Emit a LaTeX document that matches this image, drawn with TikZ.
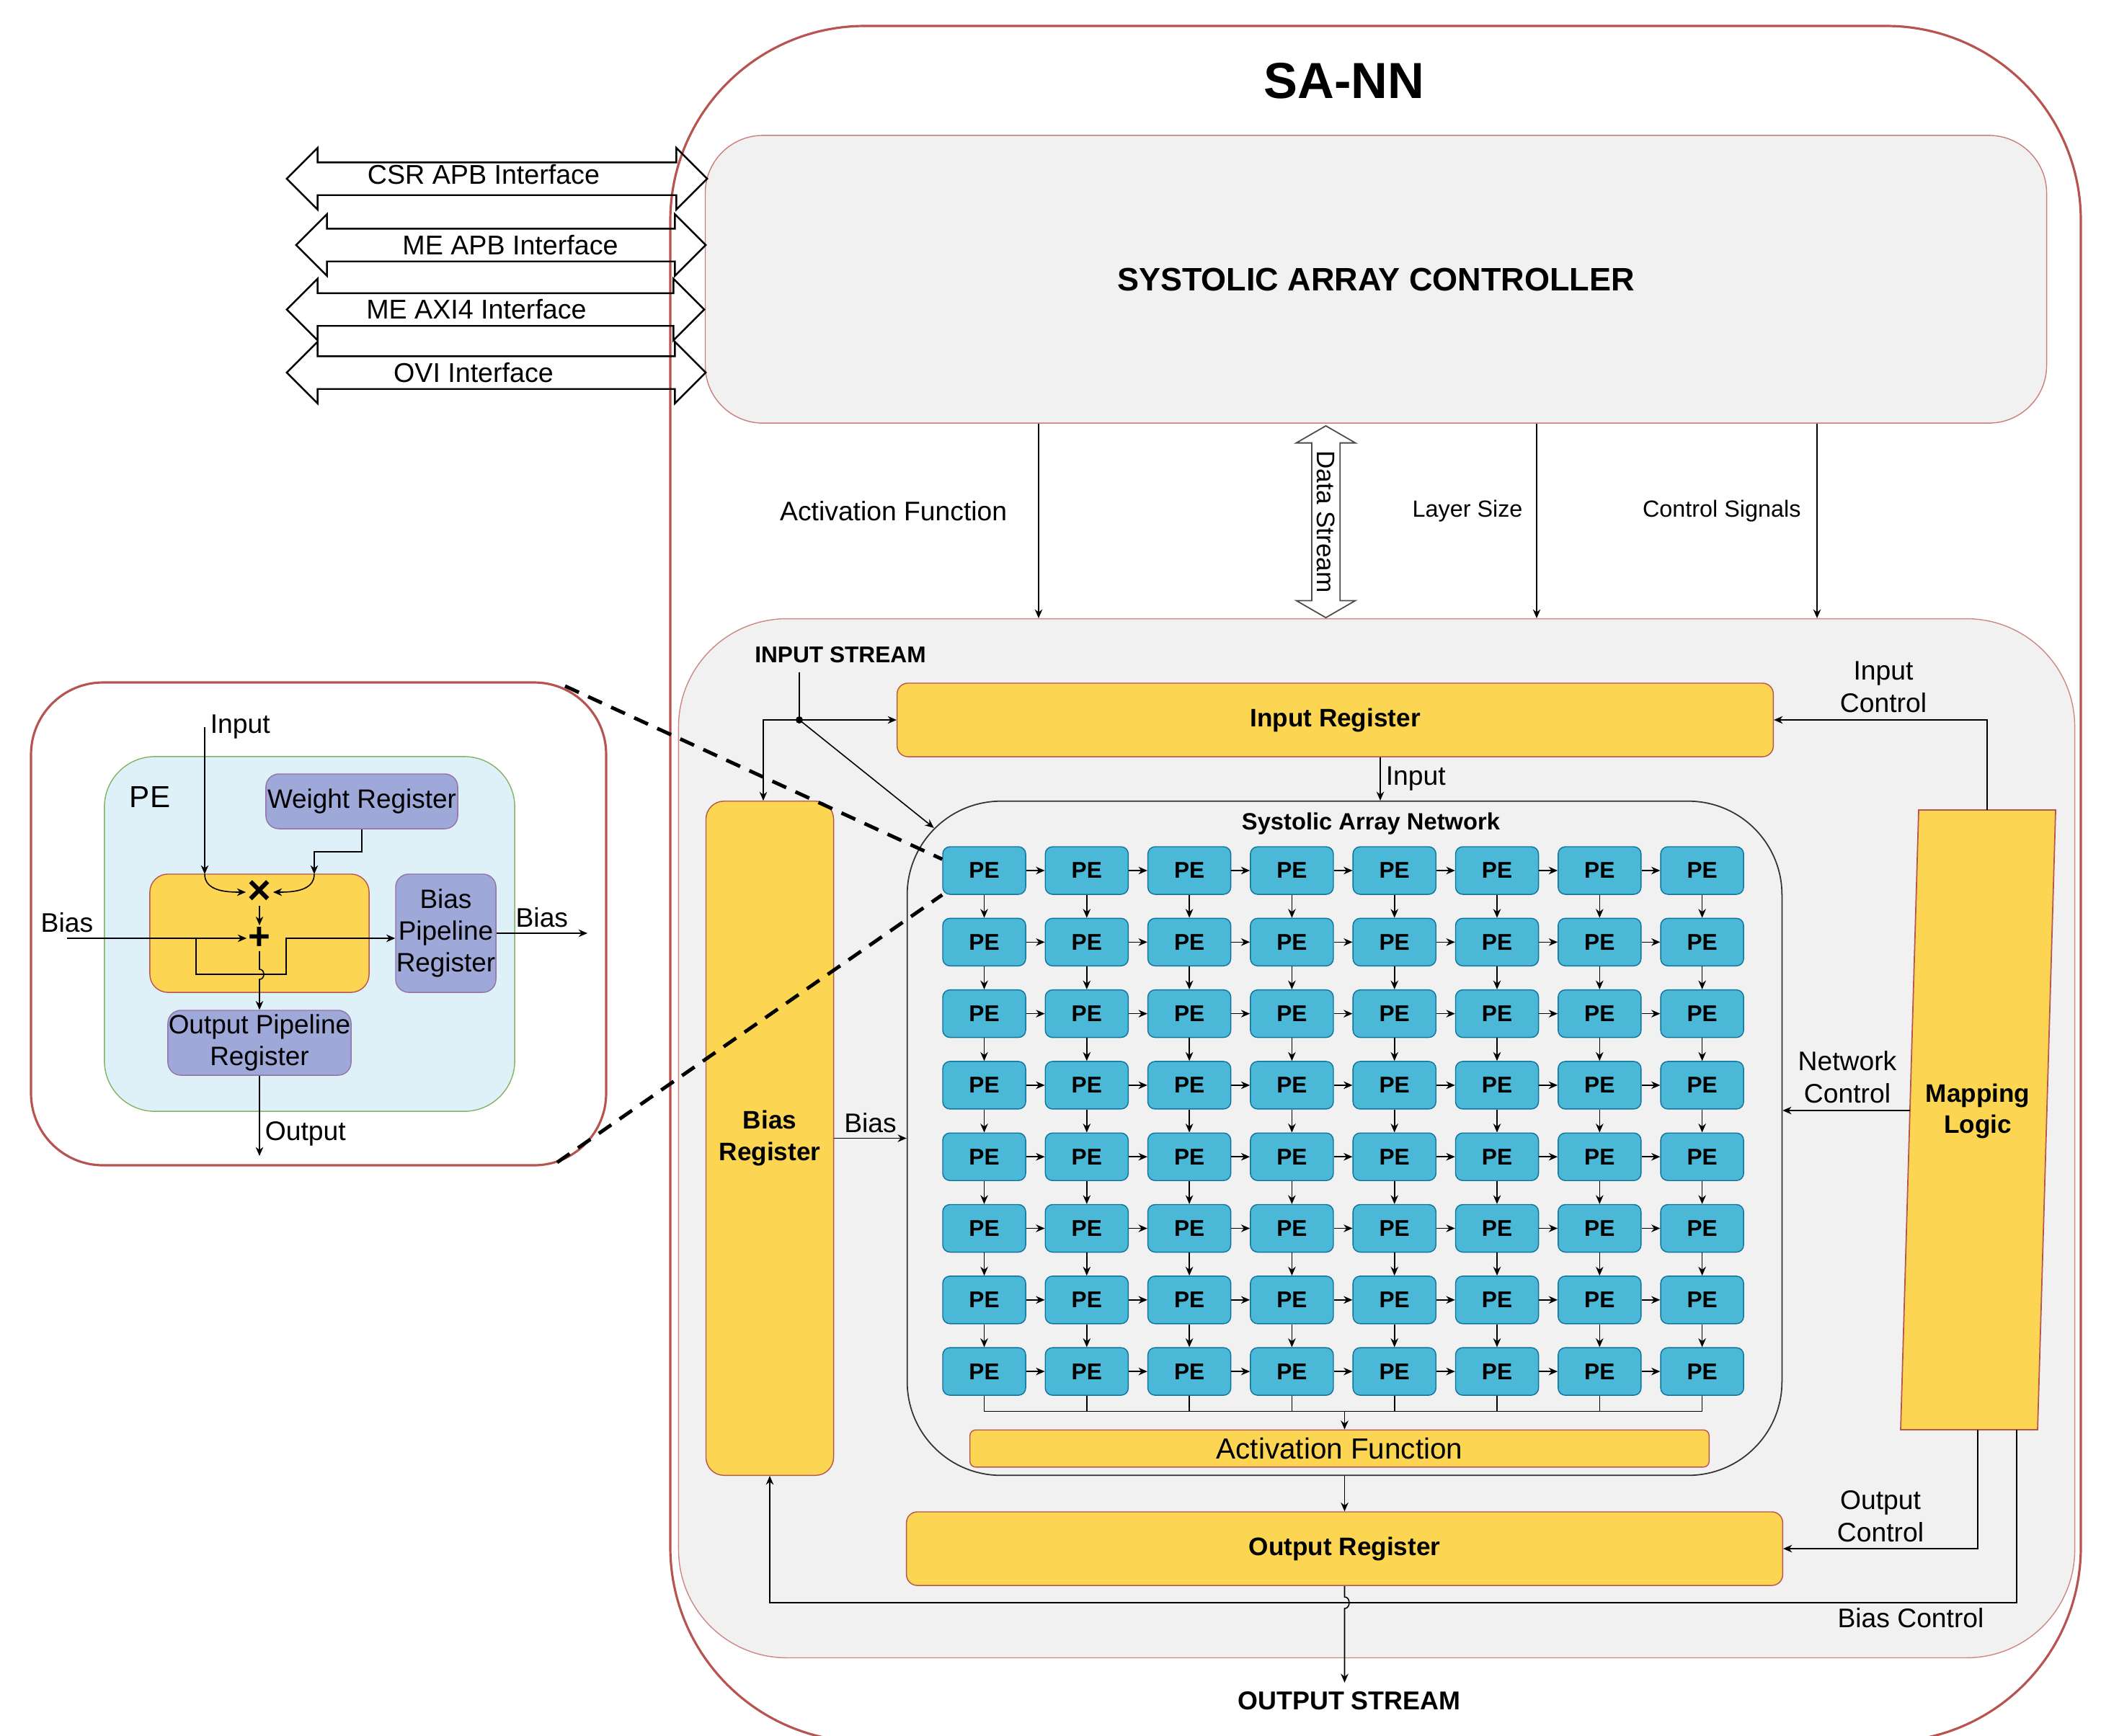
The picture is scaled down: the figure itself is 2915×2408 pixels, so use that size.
\documentclass[tikz,border=0pt]{standalone}
\usepackage{fontspec}
\setmainfont{Liberation Sans}
\usetikzlibrary{shapes.arrows,arrows.meta,positioning}
\definecolor{boxred}{HTML}{B85450}
\definecolor{regyellow}{HTML}{FCD652}
\definecolor{peblue}{HTML}{4BB8D7}
\definecolor{peline}{HTML}{10739E}
\definecolor{lavender}{HTML}{9EA8D9}
\definecolor{lavline}{HTML}{9673A6}
\definecolor{pecyan}{HTML}{DFF1F8}
\definecolor{pegreen}{HTML}{82B366}
\definecolor{areagray}{HTML}{F1F1F1}
\begin{document}
\begin{tikzpicture}[x=0.01cm, y=-0.01cm, >={Stealth[length=3.5pt,width=3pt]},
  wire/.style={->, line width=0.45pt},
  reg/.style={draw=boxred, fill=regyellow, rounded corners=0.15cm, inner sep=0pt, align=center, font=\fontsize{10}{12.5}\selectfont\bfseries},
  pe/.style={draw=peline, fill=peblue, rounded corners=0.1cm, minimum width=1.15cm, minimum height=0.66cm, inner sep=0pt, font=\fontsize{9}{11}\selectfont\bfseries},
  purple box/.style={draw=lavline, fill=lavender, rounded corners=0.18cm, inner sep=0pt, align=center, font=\fontsize{10.5}{12.6}\selectfont},
  iface/.style={double arrow, draw, line width=0.7pt, minimum width=0.83cm, double arrow head extend=0.2cm, inner xsep=0pt, inner ysep=0.215cm},
  iface text/.style={font=\fontsize{10.7}{12}\selectfont, inner sep=0pt},
  lbl/.style={font=\fontsize{10.6}{12.8}\selectfont, align=center, inner sep=2pt}]
  \tikzstyle{every node}=[font=\fontsize{10.6}{12.8}\selectfont]
  \useasboundingbox (0,0) rectangle (2915,2408);

  % SA-NN frame
  \draw[boxred, line width=0.9pt, rounded corners=2.7cm] (930,36) rectangle (2887,2417);
  \node[font=\fontsize{20}{24}\selectfont\bfseries] (title) at (1865,112) {SA-NN};
  \node[draw=boxred!75, fill=areagray, rounded corners=0.8cm, minimum width=18.6cm, minimum height=3.99cm, font=\fontsize{12.8}{15}\selectfont\bfseries] (ctrl) at (1909,387.5) {SYSTOLIC ARRAY CONTROLLER};

  % interfaces
  \node[iface, minimum height=5.83cm, label={[iface text, xshift=-0.185cm, yshift=0.06cm]center:CSR APB Interface}] (csr) at (689.5,248) {};
  \node[iface, minimum height=5.68cm, label={[iface text, xshift=0.13cm]center:ME APB Interface}] (meapb) at (695,340) {};
  \node[iface, minimum height=5.79cm, label={[iface text, xshift=-0.265cm]center:ME AXI4 Interface}] (meaxi) at (687.5,429.5) {};
  \node[iface, minimum height=5.81cm, label={[iface text, xshift=-0.315cm]center:OVI Interface}] (ovi) at (688.5,517) {};

  % array area
  \node[draw=boxred!70, fill=areagray, rounded corners=1.5cm, minimum width=19.36cm, minimum height=14.41cm] (area) at (1910,1579.5) {};

  \draw[wire] (1441,0 |- ctrl.south) -- (1441,0 |- area.north) node[pos=0.45, left=0.36cm, lbl] {Activation Function};
  \node[double arrow, draw=black!70, line width=0.5pt, rotate=-90, minimum height=2.66cm, minimum width=0.82cm, double arrow head extend=0.145cm, double arrow tip angle=120, inner sep=0pt, font=\fontsize{10}{12}\selectfont] (ds) at (1839.5,724) {Data Stream};
  \draw[wire] (2132,0 |- ctrl.south) -- (2132,0 |- area.north) node[pos=0.45, left=0.07cm, font=\fontsize{9.2}{11}\selectfont] {Layer Size};
  \draw[wire] (2521,0 |- ctrl.south) -- (2521,0 |- area.north) node[pos=0.45, left=0.1cm, font=\fontsize{9.2}{11}\selectfont] {Control Signals};

  % registers
  \node[font=\fontsize{9}{11}\selectfont\bfseries] (instream) at (1166,909) {INPUT STREAM};
  \node[reg, minimum width=12.15cm, minimum height=1.02cm] (inreg) at (1852.5,999) {Input Register};
  \node[reg, minimum width=1.77cm, minimum height=9.35cm, rounded corners=0.25cm] (biasreg) at (1068,1579.5) {Bias\\Register};
  \node[draw=black!80, line width=0.5pt, rounded corners=1.3cm, minimum width=12.13cm, minimum height=9.35cm] (net) at (1865.5,1579.5) {};
  \node[font=\fontsize{9.3}{11}\selectfont\bfseries] (netlabel) at (1902,1143) {Systolic Array Network};

  \coordinate (jn) at (1109,999);
  \fill (jn) circle[radius=0.05cm];
  \draw[line width=0.45pt] (jn |- instream.south) -- (jn);
  \draw[wire] (jn) -- (inreg.west);
  \draw[wire] (jn) -| ([xshift=-0.09cm]biasreg.north);
  \draw[wire] (jn) -- ([shift={(0.38cm,-0.38cm)}]net.north west);
  \draw[wire] (1915,0 |- inreg.south) -- (1915,0 |- net.north) node[midway, right, lbl] {Input};
  \draw[wire] (biasreg.east) -- (biasreg.east -| net.west) node[midway, above, lbl] {Bias};

  % PE grid
  \foreach \r in {1,...,8}
    \foreach \c in {1,...,8}
      \node[pe] (pe\r\c) at ({1365.5+(\c-1)*142.3},{1208+(\r-1)*99.3}) {PE};
  \foreach \r in {1,...,8}
    \foreach \c [count=\n from 2] in {1,...,7}
      \draw[wire] (pe\r\c) -- (pe\r\n);
  \foreach \r [count=\n from 2] in {1,...,7}
    \foreach \c in {1,...,8}
      \draw[wire] (pe\r\c) -- (pe\n\c);

  \coordinate (coll) at (1865.5,1958.5);
  \foreach \c in {1,...,8}
    \draw[line width=0.45pt] (pe8\c) -- (pe8\c |- coll);
  \draw[line width=0.45pt] (pe81 |- coll) -- (pe88 |- coll);
  \node[reg, minimum width=10.25cm, minimum height=0.515cm, rounded corners=0.08cm, font=\fontsize{11.5}{13}\selectfont] (act) at (1858.5,2010) {Activation Function};
  \draw[wire] (coll) -- (coll |- act.north);

  \node[reg, minimum width=12.15cm, minimum height=1.02cm] (outreg) at (1865.5,2149) {Output Register};
  \draw[wire] (net.south) -- (outreg.north);
  \node[font=\fontsize{10.2}{12}\selectfont\bfseries] (outstream) at (1872,2360) {OUTPUT STREAM};
  \draw[wire] (outreg.south) -- (1865.5,2216) .. controls (1874,2216) and (1874,2232) .. (1865.5,2232) -- (outstream.north -| outreg.south);

  % mapping logic
  \filldraw[draw=boxred, fill=regyellow, line width=0.5pt] (2662,1124) -- (2852,1124) -- (2827,1984) -- (2637,1984) -- cycle;
  \node[font=\fontsize{10}{12.3}\selectfont\bfseries, align=center] (map) at (2744,1542) {Mapping\\Logic};
  \coordinate (mapin) at (2757,1124);
  \coordinate (mapnet) at (2650,1541);
  \coordinate (mapout) at (2744,1984);
  \coordinate (mapbias) at (2798,1984);
  \draw[wire] (mapin) |- (inreg.east);
  \node[lbl] (inctl) at (2613,953) {Input\\Control};
  \draw[wire] (mapnet) -- (mapnet -| net.east);
  \node[lbl] (netctl) at (2563,1495) {Network\\Control};
  \draw[wire] (mapout) |- (outreg.east);
  \node[lbl] (outctl) at (2609,2104) {Output\\Control};
  \draw[wire] (mapbias) |- (biasreg.south |- 0,2224) -- (biasreg.south);
  \node[lbl] (biasctl) at (2651,2245) {Bias Control};

  % PE detail
  \draw[boxred, line width=0.9pt, rounded corners=1cm] (43,947) rectangle (841,1617);
  \node[draw=pegreen, fill=pecyan, rounded corners=0.7cm, minimum width=5.69cm, minimum height=4.92cm] (pebox) at (429.5,1296) {};
  \node[font=\fontsize{12}{14}\selectfont] (pelabel) at (208,1106) {PE};
  \node[purple box, minimum width=2.66cm, minimum height=0.76cm] (wreg) at (502,1112) {Weight Register};
  \node[draw=boxred, fill=regyellow, rounded corners=0.25cm, minimum width=3.04cm, minimum height=1.64cm] (mac) at (360,1295) {};
  \node[purple box, minimum width=1.39cm, minimum height=1.64cm] (bpreg) at (618.5,1295) {Bias\\Pipeline\\Register};
  \node[purple box, minimum width=2.54cm, minimum height=0.90cm] (opreg) at (360,1447) {Output Pipeline\\Register};
  \node[font=\fontsize{16}{16}\selectfont\bfseries, inner sep=0.5pt] (mul) at (360,1238) {×};
  \node[font=\fontsize{15}{15}\selectfont\bfseries, inner sep=0.5pt] (add) at (360,1302) {+};

  \coordinate (iin) at (284,1213);
  \coordinate (win) at (436,1213);
  \draw[wire] (284,1009) node[right, lbl] {Input} -- (iin);
  \draw[wire] (iin) to[out=-90, in=180] (mul.west);
  \draw[wire] (wreg.south) |- (436,1182) -- (win);
  \draw[wire] (win) to[out=-90, in=0] (mul.east);
  \draw[wire] (mul) -- (add);
  \coordinate (bin) at (93,1302);
  \draw[wire] (bin) node[above, lbl] {Bias} -- (add.west);
  \draw[wire] (272,1302) |- (397,1352) |- ([yshift=-0.07cm]bpreg.west);
  \draw[wire] (add.south) -- (360,1345) .. controls (368,1345) and (368,1359) .. (360,1359) -- (opreg.north);
  \coordinate (peout) at (360,1604);
  \draw[wire] (opreg.south) -- (peout) node[pos=0.72, right, lbl] {Output};
  \coordinate (bout) at (815,1295);
  \draw[wire] (bpreg.east) -- (bout) node[midway, above, lbl] {Bias};

  % zoom lines
  \coordinate (zoomtop) at (784,952);
  \coordinate (zoombot) at (773,1613);
  \draw[dash pattern=on 6pt off 4pt, line width=1.4pt] (zoomtop) -- ([yshift=-0.18cm]pe11.north west);
  \draw[dash pattern=on 6pt off 4pt, line width=1.4pt] (zoombot) -- (pe11.south west);
\end{tikzpicture}
\end{document}
